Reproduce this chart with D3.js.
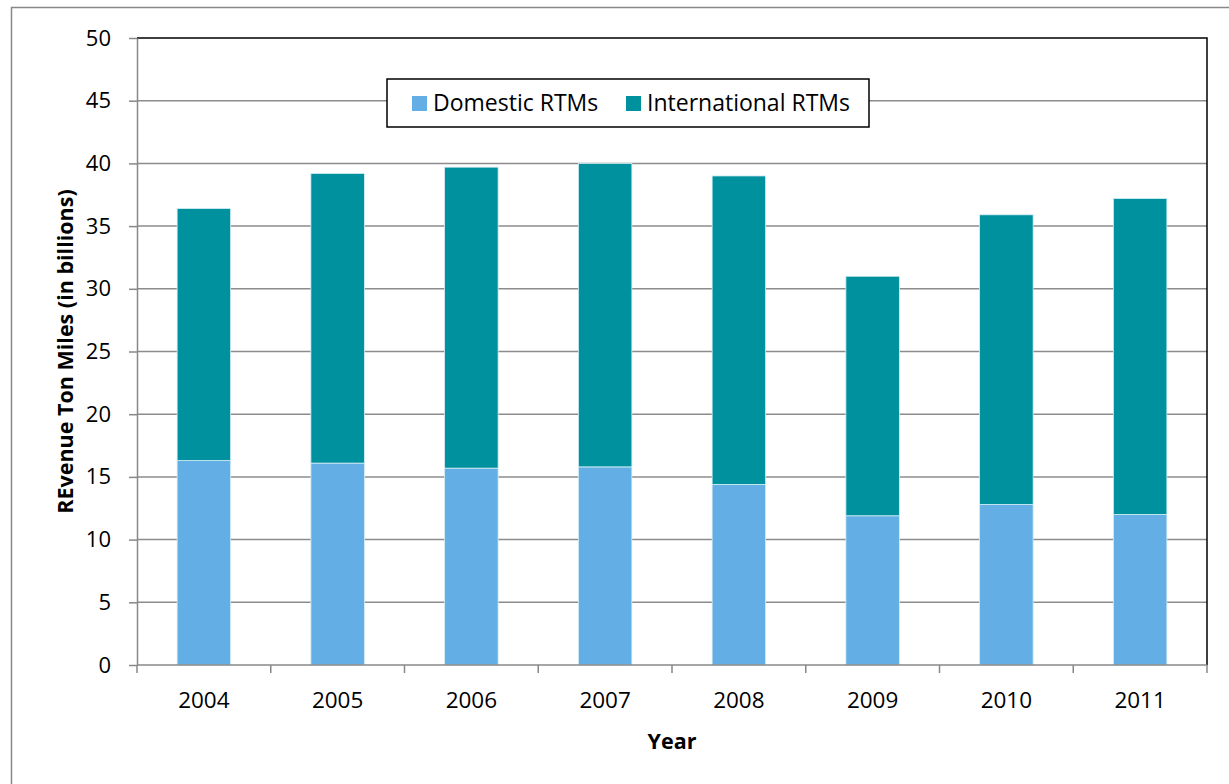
<!DOCTYPE html>
<html>
<head>
<meta charset="utf-8">
<script src="https://cdn.jsdelivr.net/npm/d3@7"></script>
<style>
  body { margin: 0; background: #fff; }
  svg text { font-family: "Open Sans", "DejaVu Sans", sans-serif; fill: #000; }
</style>
</head>
<body>
<div id="chart"></div>
<script>
// values (billions of revenue ton miles)
var years = ["2004", "2005", "2006", "2007", "2008", "2009", "2010", "2011"];
var domestic = [16.3, 16.1, 15.7, 15.8, 14.4, 11.9, 12.8, 12.0];
var international = [20.1, 23.1, 24.0, 24.2, 24.6, 19.1, 23.1, 25.2];
var yTicks = [0, 5, 10, 15, 20, 25, 30, 35, 40, 45, 50];
var seriesNames = ["Domestic RTMs", "International RTMs"];

var cfg = {
  w: 1229,
  h: 784,
  margin: {top: 38, right: 22, bottom: 119, left: 137},
  color: ['#63afe5', '#00919e']
};

var graphW = cfg.w - cfg.margin.left - cfg.margin.right;
var graphH = cfg.h - cfg.margin.top - cfg.margin.bottom;

var root = d3.select("#chart")
  .append("svg")
  .attr("width", cfg.w)
  .attr("height", cfg.h);

// outer chart frame
root.append("rect")
  .attr("x", 11.5).attr("y", 7.5)
  .attr("width", cfg.w + 10).attr("height", cfg.h + 10)
  .attr("fill", "none")
  .attr("stroke", "#888")
  .attr("stroke-width", 1.5);

var svg = root.append("g")
  .attr("transform", "translate(" + cfg.margin.left + "," + cfg.margin.top + ")");

var x = d3.scaleBand()
  .domain(years)
  .range([0, graphW])
  .paddingInner(0.6)
  .paddingOuter(0.3);

var y = d3.scaleLinear()
  .domain([0, 50])
  .range([graphH, 0]);

// gridlines
svg.append("g")
  .selectAll("line")
  .data(yTicks.slice(1, -1))
  .enter().append("line")
  .attr("x1", 0).attr("x2", graphW)
  .attr("y1", function(d) { return y(d); })
  .attr("y2", function(d) { return y(d); })
  .attr("stroke", "#8c8c8c")
  .attr("stroke-width", 1.5);

// plot frame top + right
svg.append("path")
  .attr("d", "M0,0H" + graphW + "V" + graphH)
  .attr("fill", "none")
  .attr("stroke", "#000")
  .attr("stroke-width", 1.5);

// stacked bars
var rows = years.map(function(yr, i) {
  return {year: yr, dom: domestic[i], intl: international[i]};
});
var stack = d3.stack().keys(["dom", "intl"])(rows);

svg.append("g")
  .selectAll("g")
  .data(stack)
  .enter().append("g")
  .attr("fill", function(d, i) { return cfg.color[i]; })
  .selectAll("rect")
  .data(function(d) { return d; })
  .enter().append("rect")
  .attr("x", function(d) { return x(d.data.year); })
  .attr("width", x.bandwidth())
  .attr("y", function(d) { return y(d[1]); })
  .attr("height", function(d) { return y(d[0]) - y(d[1]); })
  .attr("stroke", "#d6eef5")
  .attr("stroke-width", 0.8);

// Y axis
var yAxis = svg.append("g")
  .call(d3.axisLeft(y).tickValues(yTicks).tickSize(8).tickSizeOuter(0));
yAxis.select(".domain").attr("stroke", "#888").attr("stroke-width", 1.5);
yAxis.selectAll(".tick line").attr("stroke", "#888").attr("stroke-width", 1.5);
yAxis.selectAll(".tick text")
  .attr("x", -26)
  .attr("font-size", "22px");

// X axis with tick marks on category boundaries
var xAxis = svg.append("g")
  .attr("transform", "translate(0," + graphH + ")");
xAxis.append("line")
  .attr("x1", 0).attr("x2", graphW)
  .attr("stroke", "#888").attr("stroke-width", 1.5);
var step = graphW / years.length;
xAxis.selectAll(".xtick")
  .data(d3.range(years.length + 1))
  .enter().append("line")
  .attr("x1", function(d) { return d * step; })
  .attr("x2", function(d) { return d * step; })
  .attr("y1", 0).attr("y2", 8)
  .attr("stroke", "#888").attr("stroke-width", 1.5);
xAxis.selectAll(".xlabel")
  .data(years)
  .enter().append("text")
  .attr("x", function(d) { return x(d) + x.bandwidth() / 2; })
  .attr("y", 43)
  .attr("text-anchor", "middle")
  .attr("font-size", "22.5px")
  .text(function(d) { return d; });

// axis titles
svg.append("text")
  .attr("x", graphW / 2)
  .attr("y", graphH + 84)
  .attr("text-anchor", "middle")
  .attr("font-size", "21.5px")
  .attr("font-weight", "bold")
  .text("Year");

svg.append("text")
  .attr("transform", "translate(-64," + (graphH / 2) + ") rotate(-90)")
  .attr("text-anchor", "middle")
  .attr("font-size", "21.5px")
  .attr("font-weight", "bold")
  .text("REvenue Ton Miles (in billions)");

// legend
var legend = svg.append("g")
  .attr("transform", "translate(250,41)");
legend.append("rect")
  .attr("width", 482).attr("height", 48)
  .attr("fill", "#fff")
  .attr("stroke", "#000")
  .attr("stroke-width", 1.5);
var legX = [25, 239];
seriesNames.forEach(function(name, i) {
  legend.append("rect")
    .attr("x", legX[i]).attr("y", 17)
    .attr("width", 15).attr("height", 15)
    .attr("fill", cfg.color[i]);
  legend.append("text")
    .attr("x", legX[i] + 21).attr("y", 32)
    .attr("font-size", "23px")
    .text(name);
});
</script>
</body>
</html>
